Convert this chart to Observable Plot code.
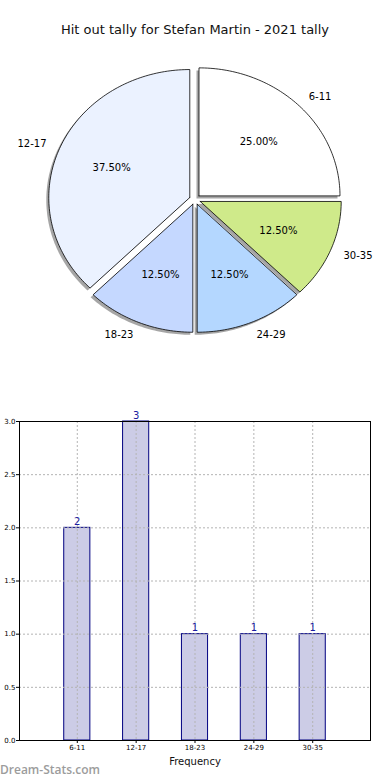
<!DOCTYPE html>
<html>
<head>
<meta charset="utf-8">
<script src="https://cdn.jsdelivr.net/npm/d3@7"></script>
<script src="https://cdn.jsdelivr.net/npm/@observablehq/plot@0.6"></script>
<style>
  html, body { margin: 0; padding: 0; background: #fff; }
  #wrap { position: relative; width: 390px; height: 780px; overflow: hidden; font-family: "DejaVu Sans", sans-serif; }
  #title { position: absolute; left: 0; top: 21px; width: 390px; text-align: center; font-size: 13px; line-height: 18px; color: #111; }
  #pie { position: absolute; left: 0; top: 0; }
  #bar { position: absolute; left: 0; top: 390px; }
  #mark { position: absolute; left: 0; top: 762px; font-family: "Open Sans", sans-serif; font-size: 12px; line-height: 16px; font-weight: 600; color: #9c9c9c; }
  svg { font-family: "DejaVu Sans", sans-serif; }
</style>
</head>
<body>
<div id="wrap">
  <div id="pie"></div>
  <div id="title">Hit out tally for Stefan Martin - 2021 tally</div>
  <div id="bar"></div>
  <div id="mark">Dream-Stats.com</div>
</div>
<script>
const categories = ["6-11", "12-17", "18-23", "24-29", "30-35"];
const counts = [2, 3, 1, 1, 1];
const sliceColors = ["#ffffff", "#ebf2ff", "#c5d8ff", "#b4d7ff", "#cfea8a"];
const yTicks = [0, 0.5, 1.0, 1.5, 2.0, 2.5, 3.0];

const total = d3.sum(counts);
const explode = 0.04;

// pie geometry from the counts (counterclockwise from 3 o'clock)
const before = [0, ...d3.cumsum(counts)];
const slices = categories.map((cat, i) => {
  const a0 = 2 * Math.PI * before[i] / total;
  const a1 = 2 * Math.PI * before[i + 1] / total;
  const mid = (a0 + a1) / 2;
  return {cat, value: counts[i], a0, a1, mid, ox: explode * Math.cos(mid), oy: explode * Math.sin(mid)};
});
const piePts = [];
for (const s of slices) {
  piePts.push({cat: s.cat, x: s.ox, y: s.oy});
  const n = Math.max(8, Math.ceil((s.a1 - s.a0) / 0.02));
  for (let k = 0; k <= n; k++) {
    const a = s.a0 + (s.a1 - s.a0) * k / n;
    piePts.push({cat: s.cat, x: s.ox + Math.cos(a), y: s.oy + Math.sin(a)});
  }
  piePts.push({cat: s.cat, x: s.ox, y: s.oy});
}
const labels = slices.map(s => ({
  cat: s.cat, cos: Math.cos(s.mid),
  x: s.ox + 1.1 * Math.cos(s.mid), y: s.oy + 1.1 * Math.sin(s.mid),
  px: s.ox + 0.6 * Math.cos(s.mid), py: s.oy + 0.6 * Math.sin(s.mid),
  pct: (100 * s.value / total).toFixed(2) + "%"
}));

const cx = 194.5, cy = 199, rx = 141, ry = 128;
const pie = Plot.plot({
  width: 390, height: 390,
  margin: 0,
  x: {domain: [-1, 1], range: [cx - rx, cx + rx], axis: null},
  y: {domain: [-1, 1], range: [cy + ry, cy - ry], axis: null},
  color: {domain: categories, range: sliceColors},
  marks: [
    Plot.line(piePts, {x: "x", y: "y", z: "cat", fill: "#4d4d4d", fillOpacity: 0.5, stroke: "none", dx: -2.5, dy: 2.5, curve: "linear"}),
    Plot.line(piePts, {x: "x", y: "y", z: "cat", fill: "cat", stroke: "#000", strokeWidth: 0.8, strokeLinejoin: "miter", curve: "linear"}),
    Plot.text(labels.filter(d => d.cos >= 0), {x: "x", y: "y", text: "cat", textAnchor: "start", fontSize: 10, fill: "#000"}),
    Plot.text(labels.filter(d => d.cos < 0), {x: "x", y: "y", text: "cat", textAnchor: "end", fontSize: 10, fill: "#000"}),
    Plot.text(labels, {x: "px", y: "py", text: "pct", textAnchor: "middle", fontSize: 10, fill: "#000"})
  ]
});
document.getElementById("pie").appendChild(pie);

const barData = categories.map((cat, i) => ({cat, count: counts[i]}));
const bar = Plot.plot({
  width: 390, height: 390,
  marginLeft: 19, marginRight: 20, marginTop: 31, marginBottom: 40,
  x: {domain: categories, paddingInner: 0.556, paddingOuter: 0.76, align: 0.5, round: false},
  y: {domain: [0, 3]},
  marks: [
    Plot.barY(barData, {x: "cat", y: "count", fill: "#cccce6", stroke: "#000080", strokeWidth: 1}),
    Plot.gridY({ticks: yTicks, stroke: "#b4b4b4", strokeOpacity: 1, strokeDasharray: "2,2"}),
    Plot.gridX({stroke: "#b4b4b4", strokeOpacity: 1, strokeDasharray: "2,2"}),
    Plot.frame({stroke: "#000", strokeWidth: 1}),
    Plot.axisY({ticks: yTicks, tickFormat: d3.format(".1f"), fontSize: 7, tickSize: 3, tickPadding: 1, label: null}),
    Plot.axisX({fontSize: 7, tickSize: 3, tickPadding: 2, label: null}),
    Plot.text(barData, {x: "cat", y: "count", text: d => String(d.count), dy: -3, lineAnchor: "bottom", fontSize: 10, fill: "#1c1ca0"}),
    Plot.text(["Frequency"], {frameAnchor: "bottom", dy: 21, lineAnchor: "middle", fontSize: 10, fill: "#111"})
  ]
});
document.getElementById("bar").appendChild(bar);
</script>
</body>
</html>
